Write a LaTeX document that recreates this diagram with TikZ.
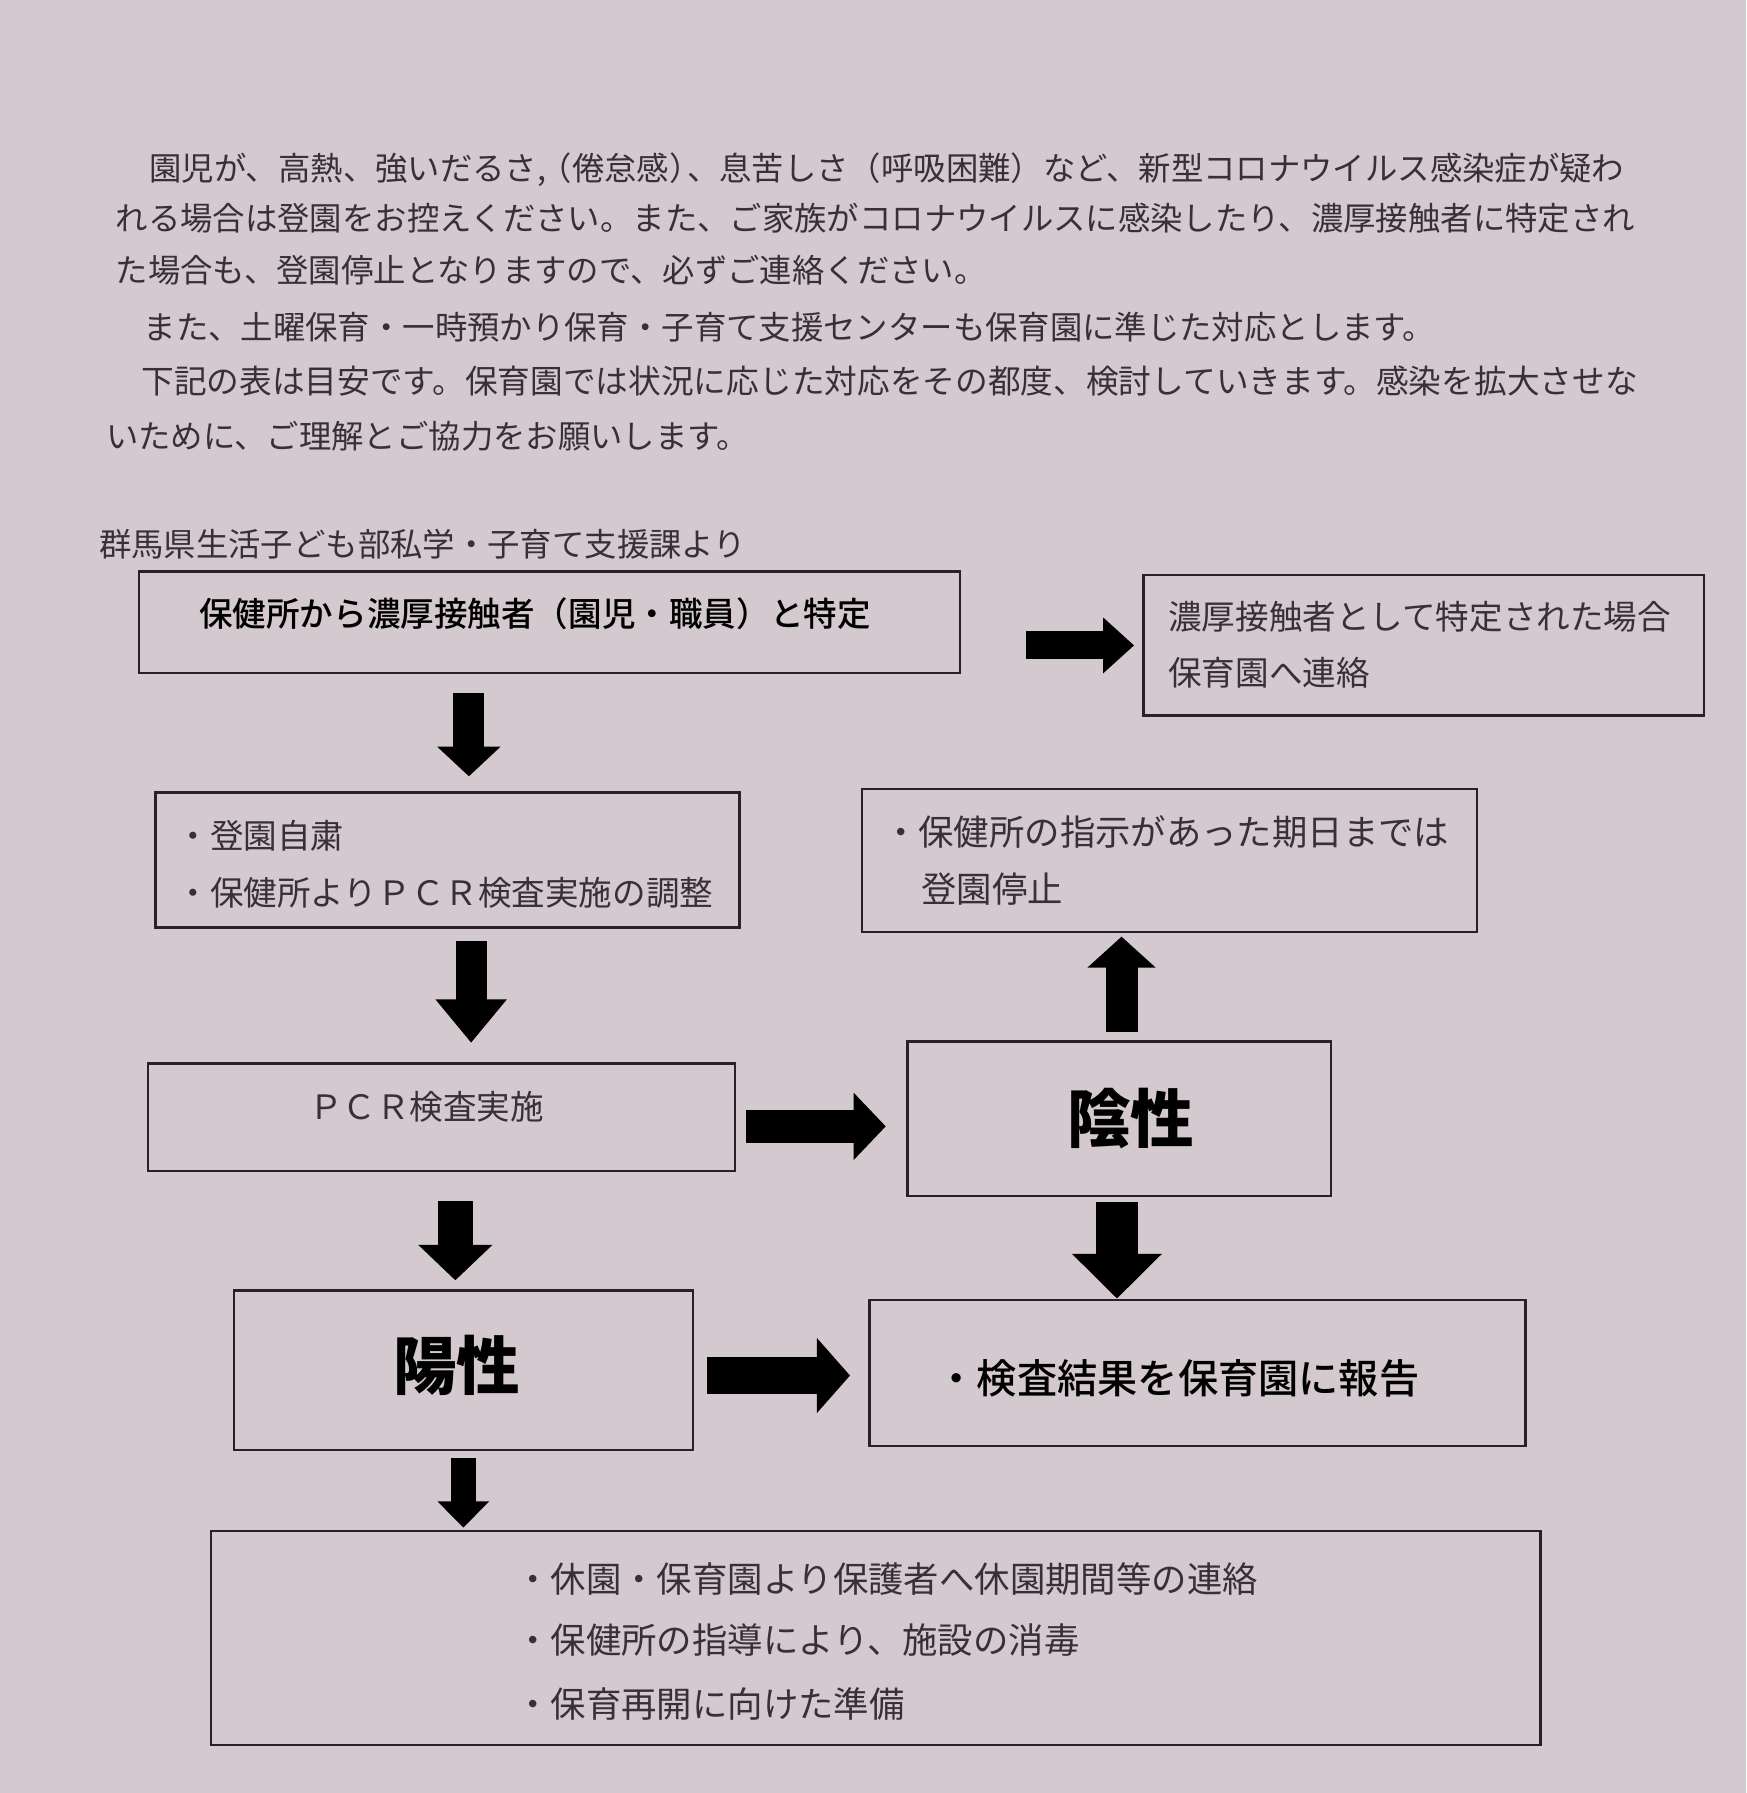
\documentclass[tikz,border=0pt]{standalone}
\usepackage{fontspec}
\setmainfont{Noto Sans CJK JP}
\newfontfamily\jpmedium{Noto Sans CJK JP}[UprightFont=* Medium]
\newfontfamily\jpblack{Noto Sans CJK JP}[UprightFont=* Black]
\usepackage{tikz}
\usetikzlibrary{arrows.meta,positioning}

\definecolor{paper}{RGB}{211,201,206}
\definecolor{ink}{RGB}{40,34,40}
\definecolor{txtgray}{RGB}{55,49,55}

\newcommand{\fsbody}{\fontsize{8.05pt}{10pt}\selectfont}
\newcommand{\fsbox}{\fontsize{8.35pt}{10pt}\selectfont}
\newcommand{\fsboxb}{\fontsize{8.8pt}{10pt}\selectfont}
\newcommand{\fsrep}{\fontsize{10pt}{12pt}\selectfont}
\newcommand{\fsbig}{\fontsize{15.8pt}{18pt}\selectfont}

\begin{document}
\begin{tikzpicture}[x=0.01cm,y=-0.01cm,
                    box/.style={draw=ink,line width=0.6pt,inner sep=0pt},
                    txt/.style={anchor=base west,inner sep=0pt,text=txtgray},
                    fatarrow/.style n args={3}{draw=black,line width=#1,
                      -{Triangle[width=#2,length=#3]}}]

  % paper
  \fill[paper] (0,0) rectangle (1527,1568);
  \useasboundingbox (0,0) rectangle (1527,1568);

  % text above the chart
  \node[txt,font=\fsbody] (p1) at (130,158)   {園児が、高熱、強いだるさ,\kern-0.2em（倦怠感）\kern-0.45em、息苦しさ（呼吸困難）など、新型コロナウイルス感染症が疑わ};
  \node[txt,font=\fsbody] (p2) at (100.5,201.6) {れる場合は登園をお控えください。また、ご家族がコロナウイルスに感染したり、濃厚接触者に特定され};
  \node[txt,font=\fsbody] (p3) at (100.5,246.8) {た場合も、登園停止となりますので、必ずご連絡ください。};
  \node[txt,font=\fsbody] (p4) at (125,296.8) {また、土曜保育・一時預かり保育・子育て支援センターも保育園に準じた対応とします。};
  \node[txt,font=\fontsize{8.13pt}{10pt}\selectfont] (p5) at (123,343.8) {下記の表は目安です。保育園では状況に応じた対応をその都度、検討していきます。感染を拡大させな};
  \node[txt,font=\fsbody] (p6) at (92,392.3)  {いために、ご理解とご協力をお願いします。};
  \node[txt,font=\fsbody] (src) at (86,487)   {群馬県生活子ども部私学・子育て支援課より};

  % boxes
  \node[box,minimum width=7.178cm,minimum height=0.89cm]  (b1) at (480.6,544.2)  {};
  \node[box,minimum width=4.90cm,minimum height=1.228cm]  (b2) at (1245,564.4)   {};
  \node[box,minimum width=5.104cm,minimum height=1.18cm]  (b3) at (391.5,752)    {};
  \node[box,minimum width=5.374cm,minimum height=1.25cm]  (b4) at (1022.7,752.5) {};
  \node[box,minimum width=5.133cm,minimum height=0.94cm]  (b5) at (386.2,977)    {};
  \node[box,minimum width=3.70cm,minimum height=1.35cm]   (b6) at (978.8,978.5)  {};
  \node[box,minimum width=4.013cm,minimum height=1.393cm] (b7) at (405.2,1198.4) {};
  \node[box,minimum width=5.734cm,minimum height=1.28cm]  (b8) at (1047.3,1200.7) {};
  \node[box,minimum width=11.62cm,minimum height=1.868cm] (b9) at (766,1432.4)   {};

  % box texts
  \node[txt,font=\fsbox\jpmedium,text=black] (t1) at (173.5,548) {保健所から濃厚接触者（園児・職員）と特定};
  \node[txt,font=\fsbox] (t2a) at (1021,550.6) {濃厚接触者として特定された場合};
  \node[txt,font=\fsbox] (t2b) at (1021,599.6) {保育園へ連絡};
  \node[txt,font=\fsbox] (t3a) at (153.8,742.2) {・登園自粛};
  \node[txt,font=\fsbox] (t3b) at (153.8,792.2) {・保健所よりＰＣＲ検査実施の調整};
  \node[txt,font=\fsboxb] (t4a) at (771.6,739.8) {・保健所の指示があった期日までは};
  \node[txt,font=\fsboxb] (t4b) at (805,788.8)   {登園停止};
  \node[txt,font=\fsbox] (t5) at (269.6,979.4) {ＰＣＲ検査実施};
  \node[txt,font=\fsbig\jpblack,text=black] (t6) at (932.5,999)  {陰性};
  \node[txt,font=\fsbig\jpblack,text=black] (t7) at (343,1215)   {陽性};
  \node[txt,font=\fsrep\jpmedium,text=black] (t8) at (818.5,1218.3) {・検査結果を保育園に報告};
  \node[txt,font=\fsboxb] (t9a) at (450,1392.3) {・休園・保育園より保護者へ休園期間等の連絡};
  \node[txt,font=\fsboxb] (t9b) at (450,1445.8) {・保健所の指導により、施設の消毒};
  \node[txt,font=\fsboxb] (t9c) at (450,1501.8) {・保育再開に向けた準備};

  % block arrows
  \draw[fatarrow={0.245cm}{0.47cm}{0.27cm},shorten <=0.565cm,shorten >=0.07cm]
        (b1.east |- b2.west) -- (b2.west);
  \draw[fatarrow={0.27cm}{0.54cm}{0.26cm},shorten <=0.163cm,shorten >=0.13cm]
        ([xshift=-0.705cm]b1.south) -- ([xshift=-0.705cm]b1.south |- b3.north);
  \draw[fatarrow={0.27cm}{0.60cm}{0.38cm},shorten <=0.11cm,shorten >=0.17cm]
        ([xshift=0.205cm]b3.south) -- ([xshift=0.205cm]b3.south |- b5.north);
  \draw[fatarrow={0.285cm}{0.57cm}{0.28cm},shorten <=0.08cm,shorten >=0.18cm]
        ([yshift=-0.08cm]b5.east) -- ([yshift=-0.08cm]b5.east -| b6.west);
  \draw[fatarrow={0.28cm}{0.58cm}{0.27cm},shorten <=0.07cm,shorten >=0.03cm]
        ([xshift=0.02cm]b6.north) -- ([xshift=0.02cm]b6.north |- b4.south);
  \draw[fatarrow={0.31cm}{0.63cm}{0.31cm},shorten <=0.255cm,shorten >=0.08cm]
        ([xshift=0.12cm]b5.south) -- ([xshift=0.12cm]b5.south |- b7.north);
  \draw[fatarrow={0.36cm}{0.76cm}{0.39cm},shorten <=0.04cm]
        ([xshift=-0.02cm]b6.south) -- ([xshift=-0.02cm]b6.south |- b8.north);
  \draw[fatarrow={0.32cm}{0.64cm}{0.29cm},shorten <=0.11cm,shorten >=0.16cm]
        ([yshift=-0.045cm]b7.east) -- ([yshift=-0.045cm]b7.east -| b8.west);
  \draw[fatarrow={0.214cm}{0.44cm}{0.23cm},shorten <=0.06cm,shorten >=0.02cm]
        (b7.south) -- (b7.south |- b9.north);
\end{tikzpicture}
\end{document}
